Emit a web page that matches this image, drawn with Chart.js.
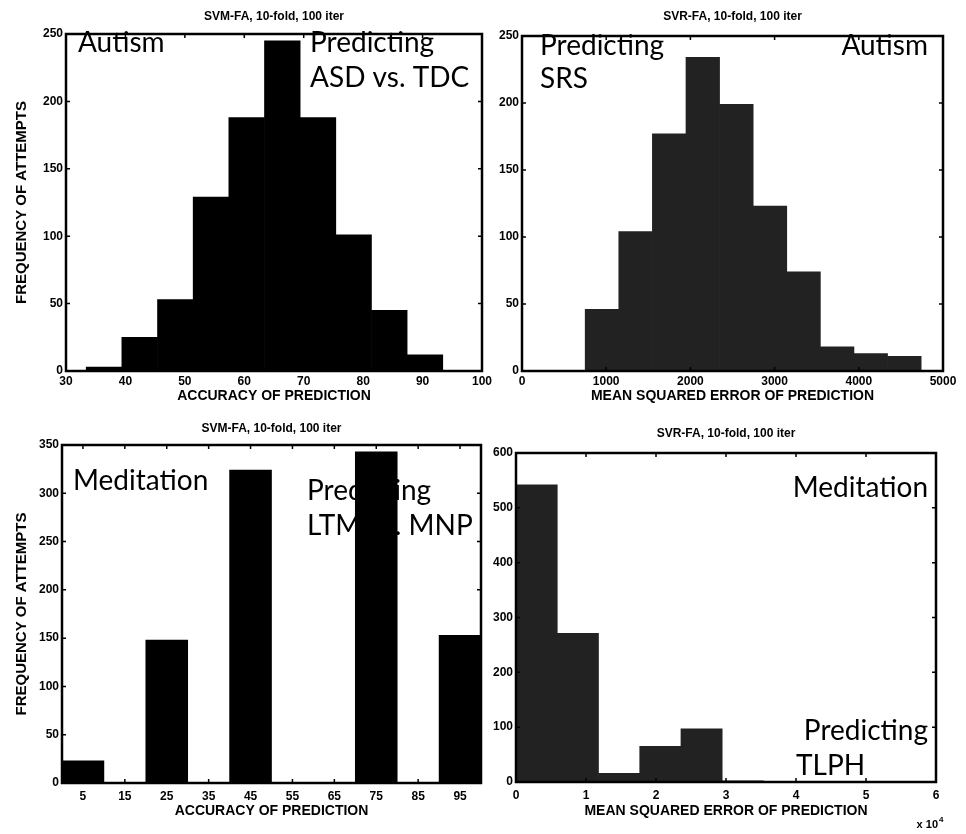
<!DOCTYPE html>
<html>
<head>
<meta charset="utf-8">
<script src="https://cdn.jsdelivr.net/npm/chart.js@4/dist/chart.umd.min.js"></script>
<style>
  html, body { margin: 0; padding: 0; background: #fff; }
  body { width: 966px; height: 834px; position: relative; overflow: hidden; }
  canvas { position: absolute; }
</style>
</head>
<body>
<canvas id="c1"></canvas>
<canvas id="c2"></canvas>
<canvas id="c3"></canvas>
<canvas id="c4"></canvas>
<script>
// ---------- DATA ----------
// Panel A: Autism, SVM accuracy histogram
const asdBinCenters = [36.4, 42.4, 48.4, 54.4, 60.4, 66.4, 72.4, 78.4, 84.4, 90.4];
const asdCounts     = [3, 25, 53, 129, 188, 245, 188, 101, 45, 12];
const asdXTicks     = [30, 40, 50, 60, 70, 80, 90, 100];
const asdYTicks     = [0, 50, 100, 150, 200, 250];

// Panel B: Autism, SVR mean squared error histogram (SRS)
const srsBinCenters = [950, 1349, 1748, 2147, 2546, 2945, 3344, 3743, 4142, 4541];
const srsCounts     = [46, 104, 177, 234, 199, 123, 74, 18, 13, 11];
const srsXTicks     = [0, 1000, 2000, 3000, 4000, 5000];
const srsYTicks     = [0, 50, 100, 150, 200, 250];

// Panel C: Meditation, SVM accuracy histogram (LTM vs MNP)
const medBinCenters = [5, 15, 25, 35, 45, 55, 65, 75, 85, 95];
const medCounts     = [23, 0, 148, 0, 324, 0, 0, 343, 0, 153];
const medXTicks     = [5, 15, 25, 35, 45, 55, 65, 75, 85, 95];
const medYTicks     = [0, 50, 100, 150, 200, 250, 300, 350];

// Panel D: Meditation, SVR mean squared error histogram (TLPH), x in units of 10^4
const tlphBinCenters = [0.295, 0.884, 1.473, 2.062, 2.651, 3.24, 3.83, 4.42, 5.01, 5.6];
const tlphCounts     = [542, 271, 16, 65, 97, 2, 1, 1, 0, 1];
const tlphXTicks     = [0, 1, 2, 3, 4, 5, 6];
const tlphYTicks     = [0, 100, 200, 300, 400, 500, 600];

// Texts
const titleSVM = 'SVM-FA, 10-fold, 100 iter';
const titleSVR = 'SVR-FA, 10-fold, 100 iter';
const yTitle = 'FREQUENCY OF ATTEMPTS';
const xTitleAcc = 'ACCURACY OF PREDICTION';
const xTitleMse = 'MEAN SQUARED ERROR OF PREDICTION';

// ---------- HELPERS ----------
const FAM = '"Liberation Sans", Arial, sans-serif';
const TICK_FONT = { family: FAM, size: 12, weight: 'bold' };
const TITLE_FONT = { family: FAM, size: 12, weight: 'bold' };
const X_TITLE_FONT = { family: FAM, size: 14, weight: 'bold' };
const Y_TITLE_FONT = { family: FAM, size: 15, weight: 'bold' };
const NOTE_FONT = '28px Lato, "Open Sans", sans-serif';

const framePlugin = {
  id: 'frame',
  beforeDatasetsDraw(chart) {
    const notes = chart.options.plugins.frame.notes || [];
    const ctx = chart.ctx;
    ctx.save();
    ctx.fillStyle = '#000';
    ctx.font = NOTE_FONT;
    ctx.textBaseline = 'alphabetic';
    notes.forEach(n => {
      ctx.textAlign = n.align || 'left';
      ctx.fillText(n.text, n.x, n.y);
    });
    ctx.restore();
  },
  afterDatasetsDraw(chart) {
    const { ctx, chartArea: a, scales } = chart;
    ctx.save();
    ctx.strokeStyle = '#000';
    ctx.lineWidth = 2.5;
    ctx.strokeRect(a.left, a.top, a.right - a.left, a.bottom - a.top);
    ctx.lineWidth = 1.5;
    const tl = 4;
    scales.x.ticks.forEach(t => {
      const px = scales.x.getPixelForValue(t.value);
      ctx.beginPath();
      ctx.moveTo(px, a.bottom); ctx.lineTo(px, a.bottom - tl);
      ctx.moveTo(px, a.top); ctx.lineTo(px, a.top + tl);
      ctx.stroke();
    });
    scales.y.ticks.forEach(t => {
      const py = scales.y.getPixelForValue(t.value);
      ctx.beginPath();
      ctx.moveTo(a.left, py); ctx.lineTo(a.left + tl, py);
      ctx.moveTo(a.right, py); ctx.lineTo(a.right - tl, py);
      ctx.stroke();
    });
    const ex = chart.options.plugins.frame.exponent;
    if (ex) {
      ctx.fillStyle = '#000';
      ctx.font = 'bold 11px ' + FAM;
      ctx.textAlign = 'right';
      ctx.textBaseline = 'alphabetic';
      ctx.fillText('x 10', ex.x, ex.y);
      ctx.font = 'bold 8px ' + FAM;
      ctx.textAlign = 'left';
      ctx.fillText(ex.power, ex.x + 1, ex.y - 6);
    }
    ctx.restore();
  }
};

function makeChart(id, p) {
  const cv = document.getElementById(id);
  cv.width = p.w; cv.height = p.h;
  cv.style.left = p.left + 'px'; cv.style.top = p.top + 'px';
  cv.style.width = p.w + 'px'; cv.style.height = p.h + 'px';
  const data = p.centers.map((c, i) => ({ x: c, y: p.counts[i] }));
  return new Chart(cv, {
    type: 'bar',
    data: {
      datasets: [{
        data: data,
        backgroundColor: p.color,
        borderWidth: 0,
        barPercentage: 1.0,
        categoryPercentage: 1.0,
        grouped: false
      }]
    },
    plugins: [framePlugin],
    options: {
      responsive: false,
      animation: false,
      devicePixelRatio: 1,
      layout: { padding: { left: 0, right: p.padRight, top: 0, bottom: 0 } },
      plugins: {
        legend: { display: false },
        tooltip: { enabled: false },
        title: {
          display: true, text: p.title, font: TITLE_FONT, color: '#000',
          fullSize: false, padding: p.titlePad
        },
        frame: { notes: p.notes, exponent: p.exponent }
      },
      scales: {
        x: {
          type: 'linear', min: p.xMin, max: p.xMax, offset: false,
          grid: { display: false, drawTicks: false },
          border: { display: false },
          afterBuildTicks: s => { s.ticks = p.xTicks.map(v => ({ value: v })); },
          ticks: { font: TICK_FONT, color: '#000', padding: p.xTickPad, maxRotation: 0, autoSkip: false,
                   callback: v => String(v) },
          title: { display: true, text: p.xTitle, font: X_TITLE_FONT, color: '#000', padding: { top: 0, bottom: p.xTitlePadB } },
          afterFit: s => { s.height = p.xHeight; }
        },
        y: {
          type: 'linear', min: p.yMin, max: p.yMax,
          grid: { display: false, drawTicks: false },
          border: { display: false },
          afterBuildTicks: s => { s.ticks = p.yTicks.map(v => ({ value: v })); },
          ticks: { font: TICK_FONT, color: '#000', padding: 3, autoSkip: false, callback: v => String(v) },
          title: { display: !!p.yTitle, text: p.yTitle || '', font: Y_TITLE_FONT, color: '#000', padding: { top: 13, bottom: 0 } },
          afterFit: s => { s.width = p.yWidth; }
        }
      }
    }
  });
}

// Panel A
makeChart('c1', {
  left: 0, top: 0, w: 500, h: 410, padRight: 18,
  titlePad: { top: 9, bottom: 10.6 }, title: titleSVM,
  centers: asdBinCenters, counts: asdCounts, color: '#000',
  xMin: 30, xMax: 100, xTicks: asdXTicks, yMin: 0, yMax: 250, yTicks: asdYTicks,
  xTitle: xTitleAcc, yTitle: yTitle, xHeight: 39, yWidth: 66, xTickPad: 3, xTitlePadB: 5.6,
  notes: [
    { text: 'Autism', x: 78, y: 52 },
    { text: 'Predicting', x: 310, y: 52 },
    { text: 'ASD vs. TDC', x: 310, y: 87 }
  ]
});

// Panel B
makeChart('c2', {
  left: 483, top: 0, w: 483, h: 410, padRight: 23,
  titlePad: { top: 9, bottom: 12.6 }, title: titleSVR,
  centers: srsBinCenters, counts: srsCounts, color: '#222',
  xMin: 0, xMax: 5000, xTicks: srsXTicks, yMin: 0, yMax: 250, yTicks: srsYTicks,
  xTitle: xTitleMse, yTitle: null, xHeight: 39, yWidth: 39, xTickPad: 3, xTitlePadB: 5.6,
  notes: [
    { text: 'Predicting', x: 57, y: 55 },
    { text: 'SRS', x: 57, y: 88 },
    { text: 'Autism', x: 445, y: 55, align: 'right' }
  ]
});

// Panel C
makeChart('c3', {
  left: 0, top: 410, w: 500, h: 424, padRight: 19,
  titlePad: { top: 11, bottom: 9.6 }, title: titleSVM,
  centers: medBinCenters, counts: medCounts, color: '#000',
  xMin: 0, xMax: 100, xTicks: medXTicks, yMin: 0, yMax: 350, yTicks: medYTicks,
  xTitle: xTitleAcc, yTitle: yTitle, xHeight: 51, yWidth: 62, xTickPad: 6, xTitlePadB: 14.6,
  notes: [
    { text: 'Meditation', x: 73, y: 80 },
    { text: 'Predicting', x: 307, y: 90 },
    { text: 'LTM vs. MNP', x: 307, y: 125 }
  ]
});

// Panel D
makeChart('c4', {
  left: 483, top: 410, w: 483, h: 424, padRight: 30,
  titlePad: { top: 16, bottom: 12.6 }, title: titleSVR,
  centers: tlphBinCenters, counts: tlphCounts, color: '#222',
  xMin: 0, xMax: 6, xTicks: tlphXTicks, yMin: 0, yMax: 600, yTicks: tlphYTicks,
  xTitle: xTitleMse, yTitle: null, xHeight: 52, yWidth: 33, xTickPad: 6, xTitlePadB: 14.6,
  notes: [
    { text: 'Meditation', x: 445, y: 87, align: 'right' },
    { text: 'Predicting', x: 445, y: 330, align: 'right' },
    { text: 'TLPH', x: 313, y: 365 }
  ],
  exponent: { x: 455, y: 418, power: '4' }
});
</script>
</body>
</html>
